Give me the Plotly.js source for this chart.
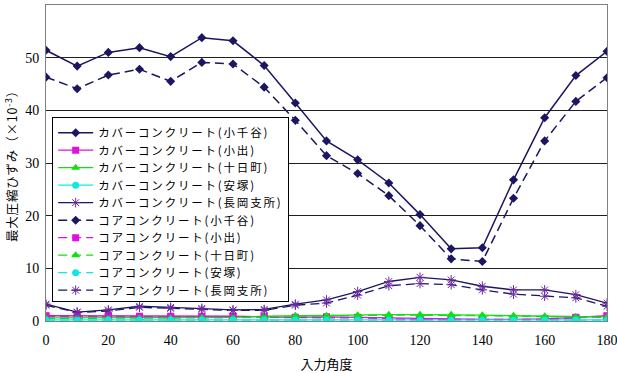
<!DOCTYPE html>
<html><head><meta charset="utf-8">
<script src="https://cdn.plot.ly/plotly-3.0.1.min.js"></script>
<style>body{margin:0;padding:0;background:#fff}#c{width:617px;height:373px}
.legendtext{letter-spacing:1.8px}
.ytitle{letter-spacing:0.8px}
.xtick text,.ytick text{font-family:"Liberation Serif",serif !important}</style>
</head><body><div id="c"></div>
<script>
const angles = [0,10,20,30,40,50,60,70,80,90,100,110,120,130,140,150,160,170,180];

const coverOjiya   = [51.4,48.4,51.0,51.9,50.2,53.8,53.2,48.5,41.4,34.2,30.6,26.2,20.2,13.7,13.9,26.8,38.6,46.6,51.2];
const coverOde     = [1.0,1.0,1.0,0.9,0.9,0.9,0.9,0.8,0.7,0.8,0.7,0.5,0.4,0.3,0.3,0.3,0.4,0.7,1.0];
const coverTokamachi=[0.6,0.6,0.6,0.6,0.6,0.7,0.7,0.9,1.0,1.0,1.1,1.2,1.2,1.2,1.1,1.0,0.9,0.8,0.8];
const coverYasuzuka= [0.2,0.2,0.2,0.2,0.2,0.2,0.2,0.2,0.2,0.2,0.2,0.2,0.2,0.2,0.2,0.2,0.2,0.2,0.2];
const coverNagaoka = [3.2,1.7,2.1,2.8,2.6,2.4,2.1,2.2,3.2,4.0,5.6,7.5,8.3,7.8,6.6,5.9,5.9,5.0,3.4];

const coreOjiya    = [46.3,44.1,46.7,47.8,45.5,49.1,48.8,44.4,38.1,31.4,28.0,23.8,18.1,11.8,11.3,23.3,34.2,41.7,46.2];
const coreOde      = [0.9,0.9,0.9,0.8,0.8,0.8,0.8,0.7,0.6,0.6,0.6,0.4,0.3,0.3,0.3,0.3,0.3,0.6,0.9];
const coreTokamachi= [0.5,0.5,0.5,0.5,0.5,0.6,0.6,0.8,0.9,0.9,1.0,1.1,1.1,1.1,1.0,0.9,0.8,0.7,0.7];
const coreYasuzuka = [0.15,0.15,0.15,0.15,0.15,0.15,0.15,0.15,0.15,0.15,0.15,0.15,0.15,0.15,0.15,0.15,0.15,0.15,0.15];
const coreNagaoka  = [3.0,1.6,1.9,2.6,2.4,2.2,2.0,2.0,3.0,3.4,4.9,6.7,7.1,6.9,5.9,5.1,4.7,4.4,2.8];

const names = [
 'カバーコンクリート(小千谷)','カバーコンクリート(小出)','カバーコンクリート(十日町)','カバーコンクリート(安塚)','カバーコンクリート(長岡支所)',
 'コアコンクリート(小千谷)','コアコンクリート(小出)','コアコンクリート(十日町)','コアコンクリート(安塚)','コアコンクリート(長岡支所)'
];
const series = [coverOjiya,coverOde,coverTokamachi,coverYasuzuka,coverNagaoka,coreOjiya,coreOde,coreTokamachi,coreYasuzuka,coreNagaoka];
const colors = ['#1c1660','#e010e0','#10e010','#10e8e8','#1c1660','#1c1660','#e010e0','#10e010','#10e8e8','#1c1660'];
const mcolors= ['#1c1660','#e010e0','#10e010','#10e8e8','#6a2aa0','#1c1660','#e010e0','#10e010','#10e8e8','#6a2aa0'];
const symbols= ['diamond','square','triangle-up','circle','asterisk-open','diamond','square','triangle-up','circle','asterisk-open'];
const msizes = [7,7,8,7,8,7,7,8,7,8];

const traces = series.map((y,i)=>({
  x: angles, y: y, name: names[i], type:'scatter', mode:'lines+markers',
  line:{color:colors[i], width: (i%5===0)?1.5:1.3, dash: i>=5?'9px,5px':'solid'},
  marker:{symbol:symbols[i], size:msizes[i], color:mcolors[i], line:{color:mcolors[i], width: symbols[i].startsWith('asterisk')?1:0}}
}));

const serif = "Liberation Serif";
const jp = "Noto Sans CJK JP";
const layout = {
  width:617, height:373,
  margin:{l:46, r:10, t:5, b:52},
  paper_bgcolor:'#fff', plot_bgcolor:'#fff',
  font:{family:serif, size:14, color:'#000'},
  showlegend:true,
  legend:{x:0.011, y:0.645, xanchor:'left', yanchor:'top', bgcolor:'#fff', bordercolor:'#000', borderwidth:1,
    font:{family:jp, size:11.5, color:'#000'}, itemwidth:35, tracegroupgap:0},
  xaxis:{range:[0,180], tickvals:[0,20,40,60,80,100,120,140,160,180], showgrid:false, zeroline:false,
    showline:true, linecolor:'#808080', linewidth:1, mirror:true, ticks:'', ticklen:0,
    ticklabeloverflow:'allow', ticklabelstandoff:6,
    tickfont:{family:serif, size:14},
    title:{text:'入力角度', font:{family:jp, size:13}, standoff:14}},
  yaxis:{range:[0,60], dtick:10, showgrid:true, gridcolor:'#202020', gridwidth:1, zeroline:false,
    showline:true, linecolor:'#808080', linewidth:1, mirror:true, ticks:'', ticklabelstandoff:3,
    tickfont:{family:serif, size:14},
    title:{text:'最大圧縮ひずみ（×10<sup>-3</sup>）', font:{family:jp, size:12.5}, standoff:4}}
};
Plotly.newPlot('c', traces, layout, {displayModeBar:false, staticPlot:true}).then(gd=>{
  const items = gd.querySelectorAll('.legend .traces');
  if(!items.length) return;
  const m = /translate\(([-\d.]+),\s*([-\d.]+)\)/.exec(items[0].getAttribute('transform')||'');
  if(!m) return;
  const x0 = parseFloat(m[1]), y0 = parseFloat(m[2]);
  const step = 17.5;
  items.forEach((el,i)=>el.setAttribute('transform',`translate(${x0},${y0+i*step})`));
  const bg = gd.querySelector('.legend rect.bg');
  if(bg){ bg.setAttribute('height', y0 + (items.length-1)*step + 10 + 1); }
});
</script></body></html>
